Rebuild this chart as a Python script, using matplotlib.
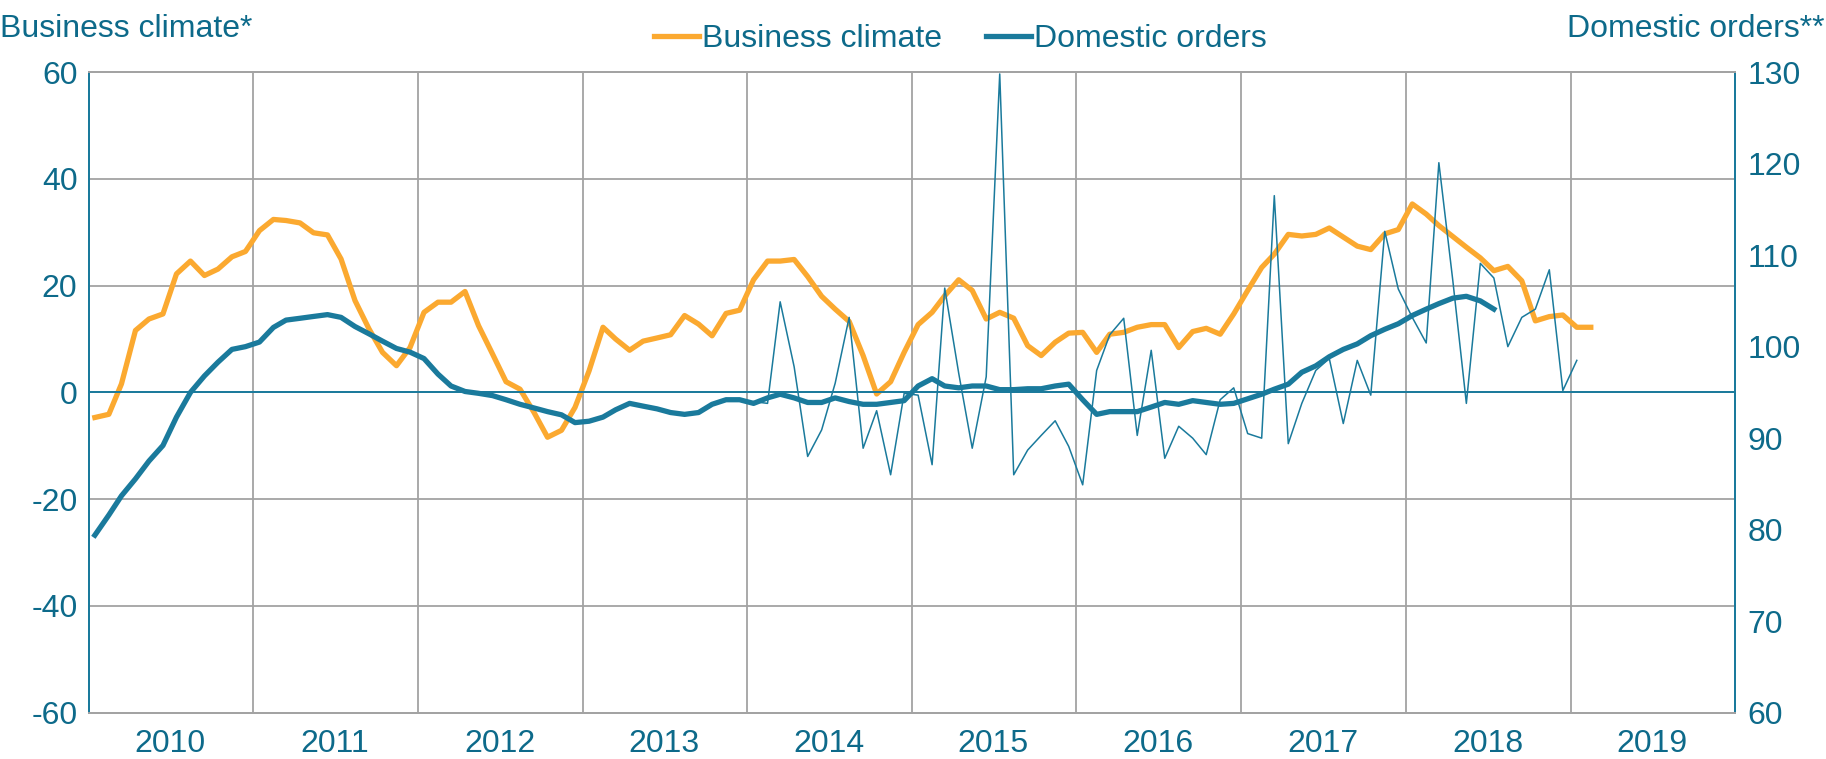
import pandas as pd
import matplotlib
matplotlib.use('Agg')
import matplotlib.pyplot as plt
import matplotlib.dates as mdates

# monthly values
business_climate = [
    -4.7, -4.1, 1.6, 11.6, 13.75, 14.7, 22.2, 24.6, 21.9, 23.1, 25.4, 26.4,
    30.3, 32.4, 32.2, 31.75, 29.9, 29.5, 25.0, 17.2, 11.9, 7.5, 5.0, 8.4,
    15.0, 16.9, 16.9, 18.9, 12.5, 7.2, 2.0, 0.6, -3.75, -8.4, -7.1, -2.8,
    4.0, 12.2, 10.0, 7.9, 9.6, 10.2, 10.8, 14.4, 12.8, 10.6, 14.8, 15.4,
    21.1, 24.6, 24.6, 24.9, 21.7, 18.0, 15.6, 13.3, 6.9, -0.3, 2.0, 7.5,
    12.7, 15.0, 18.1, 21.1, 19.1, 13.75, 15.0, 13.9, 8.75, 6.9, 9.4, 11.1,
    11.25, 7.5, 10.9, 11.25, 12.2, 12.7, 12.7, 8.4, 11.4, 12.0, 10.9, 14.7,
    19.1, 23.4, 25.9, 29.6, 29.3, 29.6, 30.8, 29.1, 27.4, 26.75, 29.7, 30.5,
    35.3, 33.4, 31.25, 29.2, 27.2, 25.2, 22.8, 23.6, 20.9, 13.4, 14.2, 14.5,
    12.2, 12.2,
]
orders_trend = [
    79.4, 81.6, 83.7, 85.55, 87.5, 89.2, 92.3, 95.0, 96.8, 98.3, 99.7, 100.0,
    100.5, 102.1, 102.9, 103.1, 103.3, 103.5, 103.2, 102.2, 101.4, 100.6, 99.8, 99.4,
    98.7, 97.0, 95.7, 95.1, 94.9, 94.65, 94.2, 93.7, 93.3, 92.9, 92.55, 91.7,
    91.85, 92.3, 93.1, 93.8, 93.5, 93.2, 92.8, 92.6, 92.8, 93.7, 94.2, 94.2,
    93.8, 94.4, 94.8, 94.4, 93.9, 93.9, 94.4, 94.0, 93.7, 93.7, 93.9, 94.1,
    95.7, 96.5, 95.7, 95.5, 95.7, 95.7, 95.3, 95.3, 95.4, 95.4, 95.7, 95.9,
    94.2, 92.6, 92.9, 92.9, 92.9, 93.4, 93.9, 93.7, 94.1, 93.9, 93.7, 93.8,
    94.3, 94.8, 95.35, 95.9, 97.2, 97.9, 98.9, 99.7, 100.3, 101.2, 101.9, 102.5,
    103.4, 104.1, 104.7, 105.3, 105.5, 105.0, 104.1,
]
orders_monthly = [
    94.0, 93.8, 104.9, 97.8, 88.0, 90.9, 96.0, 103.2, 88.9, 93.0, 86.0, 94.9,
    94.7, 87.1, 106.4, 97.1, 88.9, 96.7, 129.8, 86.0, 88.7, 90.3, 91.9, 89.1,
    84.9, 97.4, 101.3, 103.1, 90.3, 99.6, 87.8, 91.3, 90.0, 88.2, 94.2, 95.5,
    90.5, 90.0, 116.5, 89.4, 93.8, 97.4, 98.7, 91.6, 98.5, 94.7, 112.6, 106.3,
    103.2, 100.4, 120.1, 107.2, 93.8, 109.1, 107.5, 100.0, 103.2, 104.1, 108.4, 95.2,
    98.5,
]

bc_dates = pd.date_range('2010-01-01', periods=len(business_climate), freq='MS') + pd.Timedelta(days=14)
trend_dates = pd.date_range('2010-01-01', periods=len(orders_trend), freq='MS') + pd.Timedelta(days=14)
monthly_dates = pd.date_range('2014-01-01', periods=len(orders_monthly), freq='MS') + pd.Timedelta(days=14)

orange = '#FBA930'
teal = '#1A7A9C'
txt = '#0D6A8A'
grid = '#A3A3A3'
fs = 23

plt.rcParams['font.family'] = ['Liberation Sans', 'DejaVu Sans']
plt.rcParams['axes.unicode_minus'] = False

fig = plt.figure(figsize=(18.26, 7.59), dpi=100)
ax = fig.add_axes([0.0485, 0.061, 0.9017, 0.844])
ax2 = ax.twinx()

l1, = ax.plot(bc_dates, business_climate, color=orange, lw=3.8, label='Business climate')
l2, = ax2.plot(trend_dates, orders_trend, color=teal, lw=3.8, label='Domestic orders')
ax2.plot(monthly_dates, orders_monthly, color=teal, lw=1.1)

ax.set_xlim(pd.Timestamp('2010-01-01'), pd.Timestamp('2020-01-01'))
ax.set_ylim(-60, 60)
ax.set_yticks(range(-60, 61, 20))
ax2.set_ylim(60, 130)
ax2.set_yticks(range(60, 131, 10))

ax.xaxis.set_major_locator(mdates.YearLocator())
ax.xaxis.set_major_formatter(plt.NullFormatter())
ax.xaxis.set_minor_locator(mdates.YearLocator(month=7))
ax.xaxis.set_minor_formatter(mdates.DateFormatter('%Y'))

ax.grid(True, which='major', color=grid, lw=1.3)
ax.axhline(0, color=teal, lw=1.4, zorder=2)
ax.set_axisbelow(True)

for a in (ax, ax2):
    a.tick_params(which='both', length=0, colors=txt, labelsize=fs)
    a.spines['top'].set_color(grid)
    a.spines['bottom'].set_color(grid)
    a.spines['left'].set_color(teal)
    a.spines['right'].set_color(teal)
    for s in a.spines.values():
        s.set_linewidth(1.4)
ax.tick_params(axis='y', pad=8)
ax2.tick_params(axis='y', pad=9)
ax.tick_params(axis='x', which='minor', pad=12)

fig.text(0.0, 0.951, 'Business climate*', color=txt, fontsize=fs, va='baseline', ha='left')
fig.text(0.999, 0.951, 'Domestic orders**', color=txt, fontsize=fs, va='baseline', ha='right')

leg = fig.legend(handles=[l1, l2], loc='center', bbox_to_anchor=(0.526, 0.948), ncol=2,
                 frameon=False, fontsize=fs, handlelength=1.4, handletextpad=0.1,
                 columnspacing=1.4, borderaxespad=0)
for t in leg.get_texts():
    t.set_color(txt)

fig.savefig('out.png', dpi=100)
